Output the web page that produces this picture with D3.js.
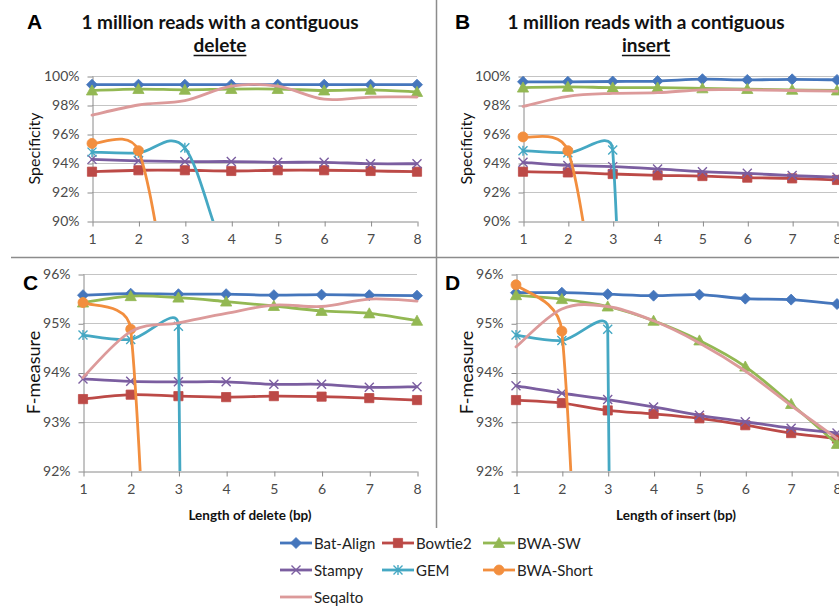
<!DOCTYPE html>
<html>
<head>
<meta charset="utf-8">
<script src="https://cdn.jsdelivr.net/npm/d3@7"></script>
<style>
  html, body { margin: 0; padding: 0; background: #fff; }
  svg { display: block; }
  text { font-family: Lato, "Open Sans", "Liberation Sans", sans-serif; }
</style>
</head>
<body>
<svg id="fig" width="839" height="606"></svg>
<script>
// ---- data -------------------------------------------------------------
const lengths = [1, 2, 3, 4, 5, 6, 7, 8];
const seriesNames = ["Bat-Align", "Bowtie2", "BWA-SW", "Stampy", "GEM", "BWA-Short", "Seqalto"];

// Specificity (%), reads with a contiguous delete
const batAlignDelSpec = [99.4, 99.4, 99.4, 99.4, 99.4, 99.4, 99.4, 99.4];
const bowtie2DelSpec  = [93.4, 93.5, 93.5, 93.45, 93.5, 93.5, 93.45, 93.4];
const bwaSwDelSpec    = [99.0, 99.1, 99.05, 99.1, 99.1, 99.0, 99.05, 98.9];
const stampyDelSpec   = [94.25, 94.15, 94.1, 94.1, 94.05, 94.05, 93.95, 93.95];
const gemDelSpec      = [94.75, 94.7, 95.05, 87, 87, 87, 87, 87];
const bwaShortDelSpec = [95.35, 94.85, 80, 80, 80, 80, 80, 80];
const seqaltoDelSpec  = [97.3, 98.0, 98.3, 99.3, 99.3, 98.4, 98.55, 98.55];

// Specificity (%), reads with a contiguous insert
const batAlignInsSpec = [99.6, 99.6, 99.62, 99.65, 99.78, 99.73, 99.77, 99.73];
const bowtie2InsSpec  = [93.4, 93.35, 93.24, 93.15, 93.1, 92.99, 92.94, 92.83];
const bwaSwInsSpec    = [99.2, 99.25, 99.2, 99.2, 99.15, 99.1, 99.05, 99.0];
const stampyInsSpec   = [94.05, 93.83, 93.75, 93.59, 93.4, 93.29, 93.13, 93.02];
const gemInsSpec      = [94.85, 94.7, 94.9, 0, 0, 0, 0, 0];
const bwaShortInsSpec = [95.8, 94.85, 79, 79, 79, 79, 79, 79];
const seqaltoInsSpec  = [97.9, 98.6, 98.8, 98.85, 99.05, 99.05, 99.0, 98.95];

// F-measure (%), reads with a contiguous delete
const batAlignDelF = [95.57, 95.6, 95.59, 95.59, 95.57, 95.58, 95.57, 95.56];
const bowtie2DelF  = [93.46, 93.55, 93.52, 93.5, 93.52, 93.51, 93.48, 93.44];
const bwaSwDelF    = [95.42, 95.55, 95.52, 95.44, 95.35, 95.25, 95.2, 95.05];
const stampyDelF   = [93.87, 93.82, 93.81, 93.81, 93.76, 93.76, 93.7, 93.71];
const gemDelF      = [94.76, 94.67, 94.94, 0, 0, 0, 0, 0];
const bwaShortDelF = [95.42, 94.88, 76, 76, 76, 76, 76, 76];
const seqaltoDelF  = [93.9, 94.83, 95.01, 95.2, 95.37, 95.34, 95.49, 95.45];

// F-measure (%), reads with a contiguous insert
const batAlignInsF = [95.62, 95.62, 95.59, 95.56, 95.58, 95.5, 95.48, 95.39];
const bowtie2InsF  = [93.44, 93.38, 93.23, 93.16, 93.07, 92.93, 92.77, 92.66];
const bwaSwInsF    = [95.57, 95.49, 95.34, 95.05, 94.65, 94.12, 93.36, 92.55];
const stampyInsF   = [93.73, 93.58, 93.45, 93.3, 93.13, 93.0, 92.87, 92.77];
const gemInsF      = [94.76, 94.65, 94.88, 0, 0, 0, 0, 0];
const bwaShortInsF = [95.78, 94.84, 76, 76, 76, 76, 76, 76];
const seqaltoInsF  = [94.52, 95.29, 95.34, 95.05, 94.6, 94.03, 93.33, 92.66];

const specTicks = [90, 92, 94, 96, 98, 100];
const fTicks = [92, 93, 94, 95, 96];

// ---- styling ------------------------------------------------------------
const colors = {
  "Bat-Align": "#4576BC", "Bowtie2": "#BC4A47", "BWA-SW": "#93B853",
  "Stampy": "#7B5EA0", "GEM": "#45A8C3", "BWA-Short": "#F28E3E", "Seqalto": "#DC9A9A"
};
const markers = {
  "Bat-Align": "diamond", "Bowtie2": "square", "BWA-SW": "triangle",
  "Stampy": "x", "GEM": "star", "BWA-Short": "circle", "Seqalto": null
};

const panels = [
  { letter: "A", kind: "delete", x1: 92, x8: 417, yTop: 76, yBot: 221, domain: [90, 100], ticks: specTicks,
    yTitle: "Specificity", yTitleX: 33, yTitleSize: 16, titleCx: 220,
    data: [batAlignDelSpec, bowtie2DelSpec, bwaSwDelSpec, stampyDelSpec, gemDelSpec, bwaShortDelSpec, seqaltoDelSpec] },
  { letter: "B", kind: "insert", x1: 523, x8: 837, yTop: 76, yBot: 221, domain: [90, 100], ticks: specTicks,
    yTitle: "Specificity", yTitleX: 465, yTitleSize: 16, titleCx: 646,
    data: [batAlignInsSpec, bowtie2InsSpec, bwaSwInsSpec, stampyInsSpec, gemInsSpec, bwaShortInsSpec, seqaltoInsSpec] },
  { letter: "C", kind: "delete", x1: 83, x8: 417, yTop: 274, yBot: 471, domain: [92, 96], ticks: fTicks,
    yTitle: "F-measure", yTitleX: 33, yTitleSize: 18, xTitle: "Length of delete (bp)", xTitleCx: 250,
    data: [batAlignDelF, bowtie2DelF, bwaSwDelF, stampyDelF, gemDelF, bwaShortDelF, seqaltoDelF] },
  { letter: "D", kind: "insert", x1: 516, x8: 837, yTop: 274, yBot: 471, domain: [92, 96], ticks: fTicks,
    yTitle: "F-measure", yTitleX: 466, yTitleSize: 18, xTitle: "Length of insert (bp)", xTitleCx: 676,
    data: [batAlignInsF, bowtie2InsF, bwaSwInsF, stampyInsF, gemInsF, bwaShortInsF, seqaltoInsF] }
];

// Smoothed line in the style of spreadsheet charts: Bezier segments whose
// control arms follow the neighbouring points (1/6 of the chord) but never
// reach further than half of the segment they belong to.
function smoothCurve(context) {
  let pts;
  function arm(tx, ty, d) {
    const len = Math.hypot(tx, ty);
    let f = 1 / 6;
    if (len > 0 && len * f > d / 2) f = d / 2 / len;
    return [tx * f, ty * f];
  }
  return {
    areaStart() {}, areaEnd() {},
    lineStart() { pts = []; },
    point(x, y) { pts.push([+x, +y]); },
    lineEnd() {
      const n = pts.length;
      if (!n) return;
      context.moveTo(pts[0][0], pts[0][1]);
      for (let i = 0; i < n - 1; i++) {
        const p0 = pts[Math.max(i - 1, 0)], p1 = pts[i], p2 = pts[i + 1], p3 = pts[Math.min(i + 2, n - 1)];
        const d = Math.hypot(p2[0] - p1[0], p2[1] - p1[1]);
        const a = arm(p2[0] - p0[0], p2[1] - p0[1], d);
        const b = arm(p3[0] - p1[0], p3[1] - p1[1], d);
        context.bezierCurveTo(p1[0] + a[0], p1[1] + a[1], p2[0] - b[0], p2[1] - b[1], p2[0], p2[1]);
      }
    }
  };
}

function markerPath(type) {
  const p = d3.path();
  if (type === "diamond") {
    const r = 5.5; p.moveTo(0, -r); p.lineTo(r, 0); p.lineTo(0, r); p.lineTo(-r, 0); p.closePath();
  } else if (type === "square") {
    const r = 4.6; p.rect(-r, -r, 2 * r, 2 * r);
  } else if (type === "triangle") {
    const r = 5.6; p.moveTo(0, -r); p.lineTo(r, r * 0.8); p.lineTo(-r, r * 0.8); p.closePath();
  } else if (type === "x") {
    const r = 4.5; p.moveTo(-r, -r); p.lineTo(r, r); p.moveTo(r, -r); p.lineTo(-r, r);
  } else if (type === "star") {
    const r = 4.5; p.moveTo(-r, -r); p.lineTo(r, r); p.moveTo(r, -r); p.lineTo(-r, r);
    p.moveTo(0, -r - 0.5); p.lineTo(0, r + 0.5);
  } else if (type === "circle") {
    p.arc(0, 0, 5, 0, 2 * Math.PI);
  }
  return p.toString();
}
function drawMarker(g, type, color, x, y) {
  if (!type) return;
  const stroked = (type === "x" || type === "star");
  g.append("path")
    .attr("d", markerPath(type))
    .attr("transform", `translate(${x},${y})`)
    .attr("fill", stroked ? "none" : color)
    .attr("stroke", color)
    .attr("stroke-width", stroked ? 1.4 : 0.8);
}

const svg = d3.select("#fig");

// panel separators
svg.append("line").attr("x1", 11).attr("x2", 839).attr("y1", 257.5).attr("y2", 257.5)
  .attr("stroke", "#8c8c8c").attr("stroke-width", 1.5);
svg.append("line").attr("x1", 436.5).attr("x2", 436.5).attr("y1", 0).attr("y2", 528)
  .attr("stroke", "#8c8c8c").attr("stroke-width", 1.5);

panels.forEach((P, pi) => {
  const g = svg.append("g");
  const x = d3.scaleLinear().domain([1, 8]).range([P.x1, P.x8]);
  const y = d3.scaleLinear().domain(P.domain).range([P.yBot, P.yTop]);

  // gridlines
  g.append("g").selectAll("line").data(P.ticks.slice(1)).join("line")
    .attr("x1", P.x1).attr("x2", P.x8)
    .attr("y1", d => Math.round(y(d)) + 0.5).attr("y2", d => Math.round(y(d)) + 0.5)
    .attr("stroke", "#c4c4c4").attr("stroke-width", 1);

  // axes
  const yAxis = d3.axisLeft(y).tickValues(P.ticks).tickFormat(d => d + "%")
    .tickSizeInner(5).tickSizeOuter(0).tickPadding(8);
  const yg = g.append("g").attr("transform", `translate(${P.x1 + 0.5},0)`).call(yAxis);
  const xAxis = d3.axisBottom(x).tickValues(lengths).tickFormat(d3.format("d"))
    .tickSizeInner(5).tickSizeOuter(0).tickPadding(8);
  const xg = g.append("g").attr("transform", `translate(0,${Math.round(P.yBot) + 0.5})`).call(xAxis);
  [yg, xg].forEach(a => {
    a.select(".domain").attr("stroke", "#8a8a8a").attr("stroke-width", 1);
    a.selectAll(".tick line").attr("stroke", "#8a8a8a");
    a.selectAll(".tick text").attr("fill", "#4a4a4a").style("font-size", "14px")
      .style("font-family", "Lato, 'Open Sans', sans-serif");
  });
  xg.selectAll(".tick line").attr("transform", "translate(0.5,0)");
  yg.selectAll(".tick line").attr("transform", "translate(0,0.5)");

  // clipping for the plotted lines
  const clipId = "clip" + pi;
  svg.append("clipPath").attr("id", clipId).append("rect")
    .attr("x", P.x1 - 12).attr("y", P.yTop - 12)
    .attr("width", P.x8 - P.x1 + 24).attr("height", P.yBot - P.yTop + 12);

  const line = d3.line().x((d, i) => x(lengths[i])).y(d => y(d)).curve(smoothCurve);

  seriesNames.forEach((name, si) => {
    const vals = P.data[si];
    const col = colors[name];
    const sg = g.append("g").attr("clip-path", `url(#${clipId})`);
    sg.append("path").attr("d", line(vals))
      .attr("fill", "none").attr("stroke", col).attr("stroke-width", 2.8)
      .attr("stroke-linejoin", "round").attr("stroke-linecap", "round");
    vals.forEach((v, i) => {
      if (v >= P.domain[0]) drawMarker(g, markers[name], col, x(lengths[i]), y(v));
    });
  });

  // y-axis title
  g.append("text")
    .attr("transform", `translate(${P.yTitleX},${(P.yTop + P.yBot) / 2}) rotate(-90)`)
    .attr("text-anchor", "middle").attr("dominant-baseline", "central")
    .style("font-size", P.yTitleSize + "px").attr("fill", "#111")
    .text(P.yTitle);

  // panel letter
  const letterY = pi < 2 ? 29 : 290;
  const letterX = [27, 455, 23, 445][pi];
  g.append("text").attr("x", letterX).attr("y", letterY)
    .style("font-family", "'Liberation Sans', Arial, sans-serif")
    .style("font-size", "21px").style("font-weight", "bold").attr("fill", "#000")
    .text(P.letter);

  // titles
  if (pi < 2) {
    g.append("text").attr("x", P.titleCx).attr("y", 29).attr("text-anchor", "middle")
      .style("font-size", "19px").style("font-weight", "bold").attr("fill", "#111")
      .text("1 million reads with a contiguous");
    const t2 = g.append("text").attr("x", P.titleCx).attr("y", 52).attr("text-anchor", "middle")
      .style("font-size", "19px").style("font-weight", "bold").attr("fill", "#111")
      .text(P.kind);
    const w = t2.node().getComputedTextLength();
    g.append("line").attr("x1", P.titleCx - w / 2).attr("x2", P.titleCx + w / 2)
      .attr("y1", 55.5).attr("y2", 55.5).attr("stroke", "#111").attr("stroke-width", 1.5);
  } else {
    g.append("text").attr("x", P.xTitleCx).attr("y", 520).attr("text-anchor", "middle")
      .style("font-size", "13.5px").style("font-weight", "bold").attr("fill", "#111")
      .text(P.xTitle);
  }
});

// ---- legend -------------------------------------------------------------
const legendCols = [280, 382, 483];
const legendRows = [543, 570, 597];
const lg = svg.append("g");
seriesNames.forEach((name, i) => {
  const cx = legendCols[i % 3], cy = legendRows[Math.floor(i / 3)];
  const col = colors[name];
  lg.append("line").attr("x1", cx).attr("x2", cx + 32).attr("y1", cy).attr("y2", cy)
    .attr("stroke", col).attr("stroke-width", 2.8);
  drawMarker(lg, markers[name], col, cx + 16, cy);
  lg.append("text").attr("x", cx + 34).attr("y", cy).attr("dominant-baseline", "central")
    .style("font-size", "15px").attr("fill", "#222").text(name);
});
</script>
</body>
</html>
